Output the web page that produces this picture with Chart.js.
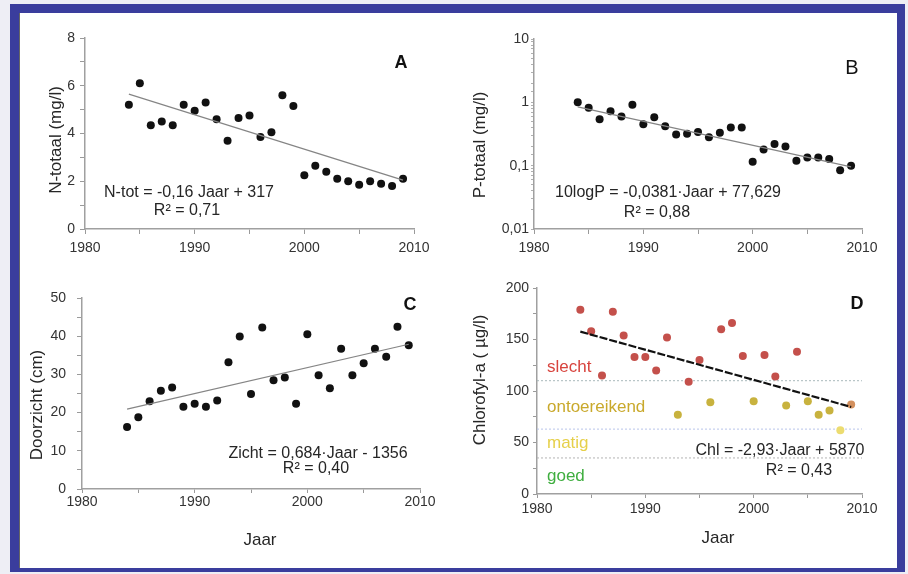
<!DOCTYPE html>
<html>
<head>
<meta charset="utf-8">
<script src="https://cdn.jsdelivr.net/npm/chart.js@4.4.0/dist/chart.umd.min.js"></script>
<style>
  html, body { margin: 0; padding: 0; background: #eeeef5; }
  #wrap { position: relative; width: 908px; height: 574px; overflow: hidden; }
  #frame {
    position: absolute; left: 10px; top: 4px; width: 895px; height: 568px;
    box-sizing: border-box; background: #fff;
    border-style: solid; border-color: #3a3d9d; border-width: 9px 8px 4px 9px;
    box-shadow: inset 1px 0 0 #666;
  }
  canvas { position: absolute; left: 0; top: 0; }
</style>
</head>
<body>
<div id="wrap">
  <div id="frame"></div>
  <canvas id="chart-a" width="908" height="574"></canvas>
  <canvas id="chart-b" width="908" height="574"></canvas>
  <canvas id="chart-c" width="908" height="574"></canvas>
  <canvas id="chart-d" width="908" height="574"></canvas>
</div>
<script>
// --- data ---
const years = [1984, 1985, 1986, 1987, 1988, 1989, 1990, 1991, 1992, 1993, 1994, 1995, 1996,
               1997, 1998, 1999, 2000, 2001, 2002, 2003, 2004, 2005, 2006, 2007, 2008, 2009];

const nTotaal = [5.2, 6.1, 4.35, 4.5, 4.35, 5.2, 4.95, 5.3, 4.6, 3.7, 4.65, 4.75, 3.85,
                 4.05, 5.6, 5.15, 2.25, 2.65, 2.4, 2.1, 2.0, 1.85, 2.0, 1.9, 1.8, 2.1];
const pTotaal = [1.0, 0.82, 0.54, 0.72, 0.6, 0.92, 0.45, 0.58, 0.42, 0.31, 0.32, 0.34, 0.28,
                 0.33, 0.40, 0.40, 0.115, 0.18, 0.22, 0.20, 0.12, 0.135, 0.135, 0.127, 0.085, 0.10];
const doorzicht = [16.2, 18.8, 23.0, 25.7, 26.6, 21.5, 22.3, 21.5, 23.2, 33.2, 39.9, 24.9, 42.3,
                   28.5, 29.2, 22.3, 40.5, 29.8, 26.4, 36.7, 29.8, 32.9, 36.7, 34.6, 42.5, 37.6];
const chlorofyl = [179, 158, 115, 177, 154, 133, 133, 120, 152, 77, 109, 130, 89,
                   160, 166, 134, 90, 135, 114, 86, 138, 90, 77, 81, 62, 87];
// quality class of each chlorofyl point (s = slecht, o = ontoereikend, m = matig, x = last year)
const chlClass = ['s', 's', 's', 's', 's', 's', 's', 's', 's', 'o', 's', 's', 'o',
                  's', 's', 's', 'o', 's', 's', 'o', 's', 'o', 'o', 'o', 'm', 'x'];

// trend lines (start and end of the fitted line)
const trendYears = [1984, 2009];
const nTrend = [5.65, 2.05];
const pTrend = [0.85, 0.096];
const zichtTrend = [20.9, 37.9];
const chlTrend = [157.6, 84.5];

// class limits in panel D
const classLimits = [110, 63, 35];
const classLabels = ['slecht', 'ontoereikend', 'matig', 'goed'];
const classLabelAt = [123, 84, 49, 17];

const xTicks = [1980, 1990, 2000, 2010];

const FONT = '"Liberation Sans", Arial, sans-serif';
const classColors = { s: '#c4504b', o: '#c8b23e', m: '#ecdc70', x: '#d3905e' };
const classTextColors = ['#d8443e', '#c9a92c', '#e6d04a', '#3fae3f'];
const classLineColors = ['#a9b9bb', '#b9c4ea', '#b4b4b4'];

const pts = (vals) => years.map((x, i) => ({ x, y: vals[i] }));
const trend = (vals) => trendYears.map((x, i) => ({ x, y: vals[i] }));

// --- small plugin for the free texts (equations, panel letters, axis titles) ---
const textPlugin = {
  id: 'texts',
  afterDraw(chart, args, opts) {
    const ctx = chart.ctx;
    (opts.items || []).forEach(t => {
      ctx.save();
      ctx.font = t.font || ('16px ' + FONT);
      ctx.fillStyle = t.color || '#262626';
      ctx.textAlign = t.align || 'center';
      ctx.textBaseline = 'middle';
      const y = t.yv !== undefined ? chart.scales.y.getPixelForValue(t.yv) : t.y;
      ctx.translate(t.x, y);
      if (t.rot) ctx.rotate(t.rot);
      ctx.fillText(t.text, 0, 0);
      ctx.restore();
    });
  }
};

function xScale(tl, pad) {
  return {
    type: 'linear', min: 1980, max: 2010,
    ticks: {
      stepSize: 5, autoSkip: false, maxRotation: 0, padding: pad,
      color: '#333', font: { size: 14, family: FONT },
      callback: v => xTicks.includes(v) ? String(v) : ''
    },
    grid: { drawOnChartArea: false, tickLength: tl, color: '#9a9a9a' },
    border: { color: '#a0a0a0', width: 1.5 },
    afterFit: s => { s.height = 30; }
  };
}

function yLinear(min, max, step, labelStep, tl, pad) {
  return {
    type: 'linear', min, max,
    ticks: {
      stepSize: step, autoSkip: false, padding: pad,
      color: '#333', font: { size: 14, family: FONT },
      callback: v => (v % labelStep === 0) ? String(v) : ''
    },
    grid: { drawOnChartArea: false, tickLength: tl, color: '#9a9a9a' },
    border: { color: '#a0a0a0', width: 1.5 },
    afterFit: s => { s.width = 40; }
  };
}

function makeChart(id, area, scales, datasets, items) {
  new Chart(document.getElementById(id), {
    type: 'scatter',
    data: { datasets },
    options: {
      responsive: false,
      animation: false,
      events: [],
      layout: {
        padding: { left: area.l - 40, top: area.t, right: 908 - area.r, bottom: 574 - area.b - 30 }
      },
      scales,
      plugins: { legend: { display: false }, tooltip: { enabled: false }, texts: { items } }
    },
    plugins: [textPlugin]
  });
}

const dots = (vals) => ({
  data: pts(vals), pointRadius: 4, pointBackgroundColor: '#111', pointBorderWidth: 0
});
const trendLine = (vals, color, width, dash) => ({
  data: trend(vals), showLine: true, pointRadius: 0,
  borderColor: color, borderWidth: width, borderDash: dash || []
});

const titleFont = '17px ' + FONT;

// --- A: N-totaal ---
makeChart('chart-a', { l: 85, r: 414, t: 38, b: 229 },
  { x: xScale(5, 6), y: yLinear(0, 8, 1, 2, 5, 5) },
  [trendLine(nTrend, '#858585', 1.2), dots(nTotaal)],
  [
    { text: 'A', x: 401, y: 63, font: 'bold 18px ' + FONT, color: '#111' },
    { text: 'N-totaal (mg/l)', x: 56, y: 140, rot: -Math.PI / 2, font: titleFont },
    { text: 'N-tot = -0,16 Jaar + 317', x: 189, y: 193 },
    { text: 'R² = 0,71', x: 187, y: 211 }
  ]);

// --- B: P-totaal (log) ---
makeChart('chart-b', { l: 534, r: 862, t: 39, b: 229 },
  {
    x: xScale(5, 6),
    y: {
      type: 'logarithmic', min: 0.01, max: 10,
      ticks: {
        autoSkip: false, padding: 2, color: '#333', font: { size: 14, family: FONT },
        callback: v => {
          const l = Math.log10(v);
          if (Math.abs(l - Math.round(l)) > 1e-6) return '';
          return v >= 1 ? String(Math.round(v)) : v.toFixed(-Math.round(l)).replace('.', ',');
        }
      },
      grid: { drawOnChartArea: false, tickLength: 3, color: '#b0b0b0' },
      border: { color: '#a0a0a0', width: 1.5 },
      afterFit: s => { s.width = 40; }
    }
  },
  [trendLine(pTrend, '#858585', 1.2), dots(pTotaal)],
  [
    { text: 'B', x: 852, y: 68, font: '20px ' + FONT, color: '#111' },
    { text: 'P-totaal (mg/l)', x: 480, y: 145, rot: -Math.PI / 2, font: titleFont },
    { text: '10logP = -0,0381·Jaar + 77,629', x: 668, y: 193 },
    { text: 'R² = 0,88', x: 657, y: 213 }
  ]);

// --- C: Doorzicht ---
makeChart('chart-c', { l: 82, r: 420, t: 298, b: 489 },
  { x: xScale(4, 1), y: yLinear(0, 50, 5, 10, 5, 11) },
  [trendLine(zichtTrend, '#858585', 1.2), dots(doorzicht)],
  [
    { text: 'C', x: 410, y: 305, font: 'bold 18px ' + FONT, color: '#111' },
    { text: 'Doorzicht (cm)', x: 37, y: 405, rot: -Math.PI / 2, font: titleFont },
    { text: 'Jaar', x: 260, y: 540, font: titleFont },
    { text: 'Zicht = 0,684·Jaar - 1356', x: 318, y: 454 },
    { text: 'R² = 0,40', x: 316, y: 469 }
  ]);

// --- D: Chlorofyl-a with quality classes ---
const limitLines = classLimits.map((v, i) => ({
  data: [{ x: 1980, y: v }, { x: 2010, y: v }], showLine: true, pointRadius: 0,
  borderColor: classLineColors[i], borderWidth: 1, borderDash: [2, 2]
}));
makeChart('chart-d', { l: 537, r: 862, t: 288, b: 494 },
  { x: xScale(4, 3), y: yLinear(0, 200, 25, 50, 4, 4) },
  [
    trendLine(chlTrend, '#111', 2.2, [8, 2]),
    {
      data: pts(chlorofyl), pointRadius: 4, pointBorderWidth: 0,
      pointBackgroundColor: chlClass.map(c => classColors[c])
    },
    ...limitLines
  ],
  [
    { text: 'D', x: 857, y: 304, font: 'bold 18px ' + FONT, color: '#111' },
    { text: 'Chlorofyl-a ( µg/l)', x: 480, y: 380, rot: -Math.PI / 2, font: titleFont },
    { text: 'Jaar', x: 718, y: 538, font: titleFont },
    { text: 'Chl = -2,93·Jaar + 5870', x: 780, y: 451 },
    { text: 'R² = 0,43', x: 799, y: 471 },
    ...classLabels.map((t, i) => ({
      text: t, x: 547, yv: classLabelAt[i], align: 'left',
      font: '17px ' + FONT, color: classTextColors[i]
    }))
  ]);
</script>
</body>
</html>
